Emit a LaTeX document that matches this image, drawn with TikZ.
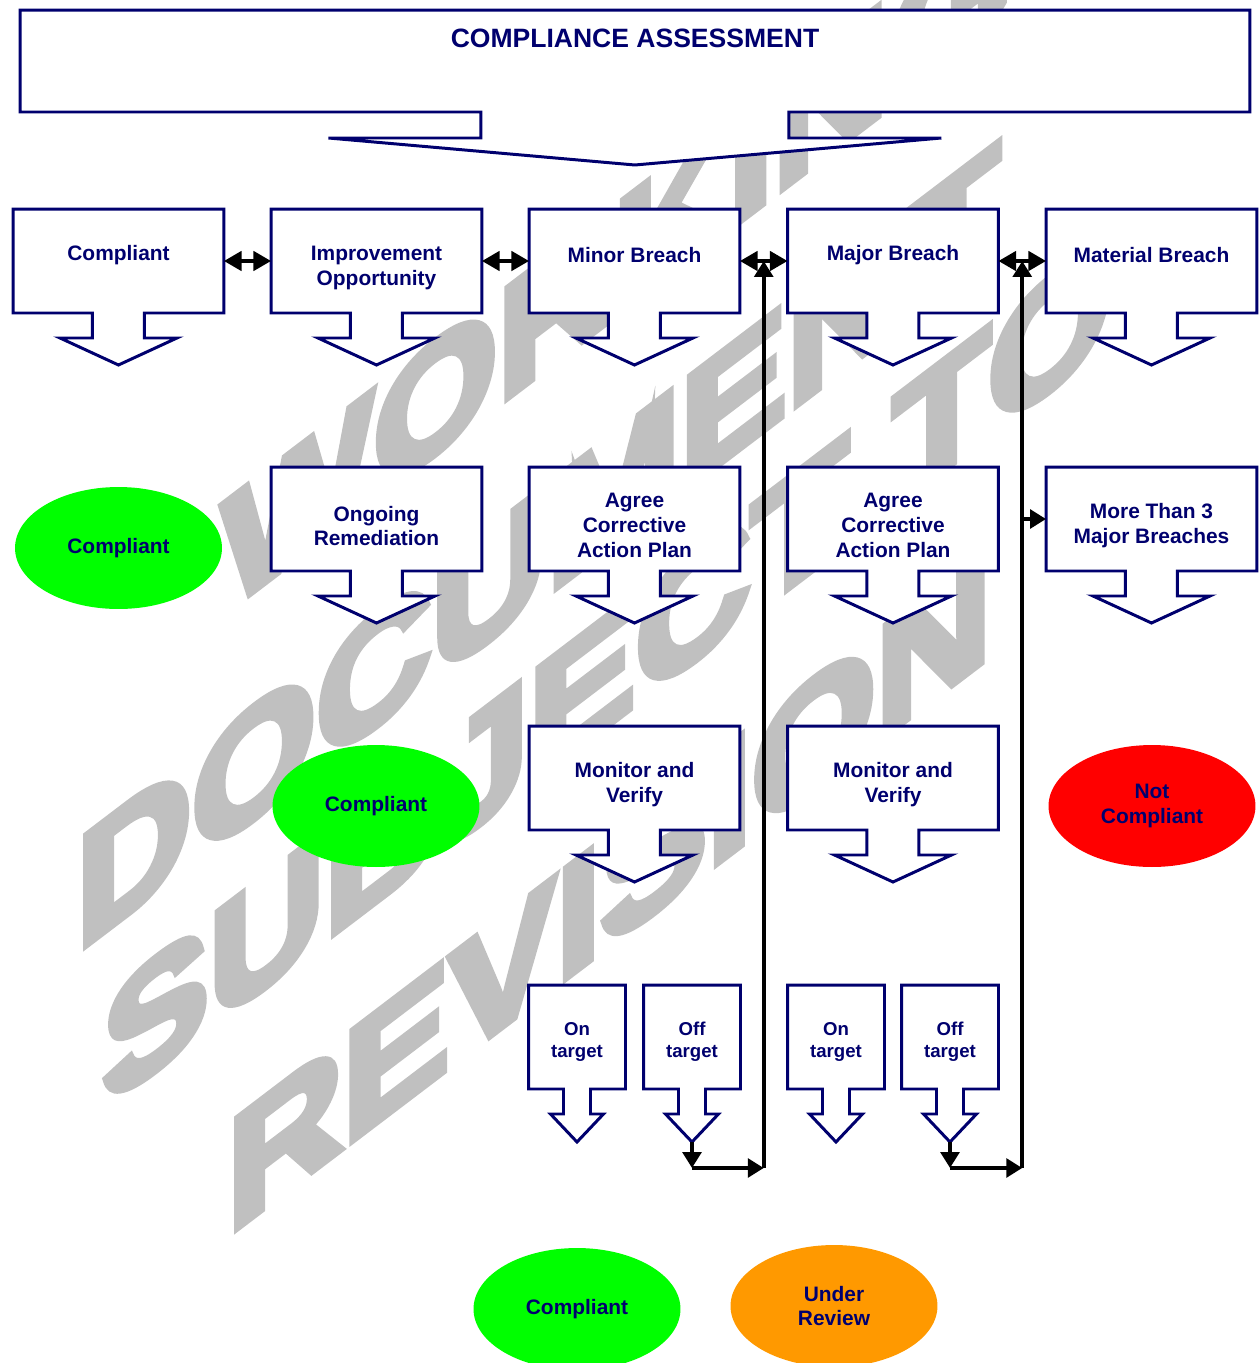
\documentclass[tikz,border=0pt]{standalone}
\usepackage{fontspec}
\setsansfont{Liberation Sans}
\newfontfamily\markfont[BoldFeatures={FakeBold=5}]{Liberation Sans}
\usetikzlibrary{shapes.geometric,arrows.meta,calc}
\definecolor{navyline}{RGB}{0,0,110}
\definecolor{okgreen}{RGB}{0,255,0}
\definecolor{badred}{RGB}{255,0,0}
\definecolor{warnorange}{RGB}{255,153,0}
\definecolor{markgrey}{RGB}{192,192,192}
\pgfdeclarelayer{wmark}
\pgfdeclarelayer{tabs}
\pgfsetlayers{wmark,tabs,main}

\tikzset{
  box/.style={rectangle,inner sep=0,outer sep=0,minimum width=4.22cm,minimum height=2.08cm},
  smallbox/.style={box,minimum width=1.94cm},
  boxtext/.style={inner sep=0,align=center,text=navyline,font=\sffamily\bfseries\fontsize{11.9}{14.2}\selectfont},
  smalltext/.style={boxtext,font=\sffamily\bfseries\fontsize{10.6}{12.5}\selectfont},
  oneline/.style={yshift=3.4pt},
  twoline/.style={yshift=-4pt},
  tabline/.style={draw=navyline,fill=white,line width=1.7pt,line join=miter},
  status/.style={ellipse,inner sep=0,minimum width=4.14cm,minimum height=2.44cm,align=center,text=navyline,font=\sffamily\bfseries\fontsize{11.9}{14.2}\selectfont},
  link/.style={line width=2pt,{Triangle[length=10pt,width=11pt]}-{Triangle[length=10pt,width=11pt]}},
  loopback/.style={line width=2.3pt,-{Triangle[length=9pt,width=10.5pt]}},
  wm/.style={text=markgrey,inner sep=0,anchor=base west,yslant=0.76,font=\markfont\bfseries\fontsize{91}{100}\selectfont},
}

% box outline with the arrow tab under it
% #1 node, #2 half width, #3 shaft half width, #4 wing, #5 shaft length, #6 head depth
\newcommand{\downtab}[6]{%
  \draw[tabline] (#1.north west) -- (#1.north east) -- (#1.south east)
    -- ++({-(#2-#3)},0) -- ++(0,#5) -- ++(#4,0)
    -- ++({-(#3+#4)},#6) -- ++({-(#3+#4)},{-#6})
    -- ++(#4,0) -- ++(0,{-#5}) -- (#1.south west) -- cycle;}

\begin{document}
\begin{tikzpicture}[x=0.02cm,y=-0.02cm]
    \useasboundingbox (0,0) rectangle (1260,1363);

    % watermark
    \begin{pgfonlayer}{wmark}
    \begin{scope}
        \clip (0,0) rectangle (1260,1363);
        \node[wm] (wmA) at (222,615) {WORKING};
        \node[wm] (wmB) at (76,953) {DOCUMENT};
        \node[wm] (wmC) at (102,1110) {SUBJECT TO};
        \node[wm] (wmD) at (227,1236) {REVISION};
    \end{scope}
    \end{pgfonlayer}

    \node[box,minimum width=24.6cm,minimum height=2.04cm] (assess) at (635,61) {};
    \node[boxtext,font=\sffamily\bfseries\fontsize{15.1}{18}\selectfont] (title) at (635,38) {COMPLIANCE ASSESSMENT};

    % first row
    \node[box] (comp) at (118.5,261) {};
    \node[box] (improve) at (376.5,261) {};
    \node[box] (minor) at (634.5,261) {};
    \node[box] (major) at (893,261) {};
    \node[box] (material) at (1151.5,261) {};
    \node[boxtext,oneline] (compT) at (comp.center) {Compliant};
    \node[boxtext,twoline] (improveT) at (improve.center) {Improvement\\Opportunity};
    \node[boxtext,oneline] (minorT) at (minor.center) {Minor Breach};
    \node[boxtext,oneline] (majorT) at (major.center) {Major Breach};
    \node[boxtext,oneline] (materialT) at (material.center) {Material Breach};

    % second row
    \node[box] (ongoing) at (376.5,519) {};
    \node[box] (agreeA) at (634.5,519) {};
    \node[box] (agreeB) at (893,519) {};
    \node[box] (morethan) at (1151.5,519) {};
    \node[boxtext,twoline] (ongoingT) at (ongoing.center) {Ongoing\\Remediation};
    \node[boxtext,yshift=-3.4pt] (agreeAT) at (agreeA.center) {Agree\\Corrective\\Action Plan};
    \node[boxtext,yshift=-3.4pt] (agreeBT) at (agreeB.center) {Agree\\Corrective\\Action Plan};
    \node[boxtext,twoline] (morethanT) at (morethan.center) {More Than 3\\Major Breaches};

    % third row
    \node[box] (monA) at (634.5,778) {};
    \node[box] (monB) at (893,778) {};
    \node[boxtext,twoline] (monAT) at (monA.center) {Monitor and\\Verify};
    \node[boxtext,twoline] (monBT) at (monB.center) {Monitor and\\Verify};

    \node[smallbox] (onA) at (577,1037) {};
    \node[smallbox] (offA) at (692,1037) {};
    \node[smallbox] (onB) at (836,1037) {};
    \node[smallbox] (offB) at (950,1037) {};
    \node[smalltext,yshift=-2.8pt] (onAT) at (onA.center) {On\\target};
    \node[smalltext,yshift=-2.8pt] (offAT) at (offA.center) {Off\\target};
    \node[smalltext,yshift=-2.8pt] (onBT) at (onB.center) {On\\target};
    \node[smalltext,yshift=-2.8pt] (offBT) at (offB.center) {Off\\target};

    % outcomes
    \node[status,fill=okgreen] (okA) at (118.5,548) {Compliant};
    \node[status,fill=okgreen] (okB) at (376,806) {Compliant};
    \node[status,fill=badred] (notok) at (1152,806) {Not\\Compliant};
    \node[status,fill=okgreen] (okC) at (577,1309) {Compliant};
    \node[status,fill=warnorange] (review) at (834,1306) {Under\\Review};

    \begin{pgfonlayer}{tabs}
        \downtab{assess}{615}{154}{152.5}{26}{27}
        \foreach \b in {comp,improve,minor,major,material,ongoing,agreeA,agreeB,morethan,monA,monB}
            {\downtab{\b}{105.5}{26}{32.5}{25}{27}}
        \foreach \b in {onA,offA,onB,offB}
            {\downtab{\b}{48.5}{13.5}{13}{25}{28}}
    \end{pgfonlayer}

    \draw[link] (comp.east) -- (improve.west);
    \draw[link] (improve.east) -- (minor.west);
    \draw[link] (minor.east) -- (major.west);
    \draw[link] (major.east) -- (material.west);

    % off target goes back up
    \coordinate (gapA) at ($(minor.east)!0.5!(major.west)$);
    \coordinate (gapB) at ($(major.east)!0.5!(material.west)$);
    \coordinate (offAtip) at ($(offA.south)+(0,53)$);
    \coordinate (offBtip) at ($(offB.south)+(0,53)$);
    \coordinate (offAbend) at ($(offAtip)+(0,26)$);
    \coordinate (offBbend) at ($(offBtip)+(0,26)$);
    \draw[loopback] (offAtip) -- (offAbend);
    \draw[loopback] (offAbend) -- (offAbend -| gapA);
    \draw[loopback] (offAbend -| gapA) -- (gapA);
    \draw[loopback] (offBtip) -- (offBbend);
    \draw[loopback] (offBbend) -- (offBbend -| gapB);
    \draw[loopback] (offBbend -| gapB) -- (gapB);
    \draw[loopback] (gapB |- morethan.west) -- (morethan.west);
\end{tikzpicture}
\end{document}
